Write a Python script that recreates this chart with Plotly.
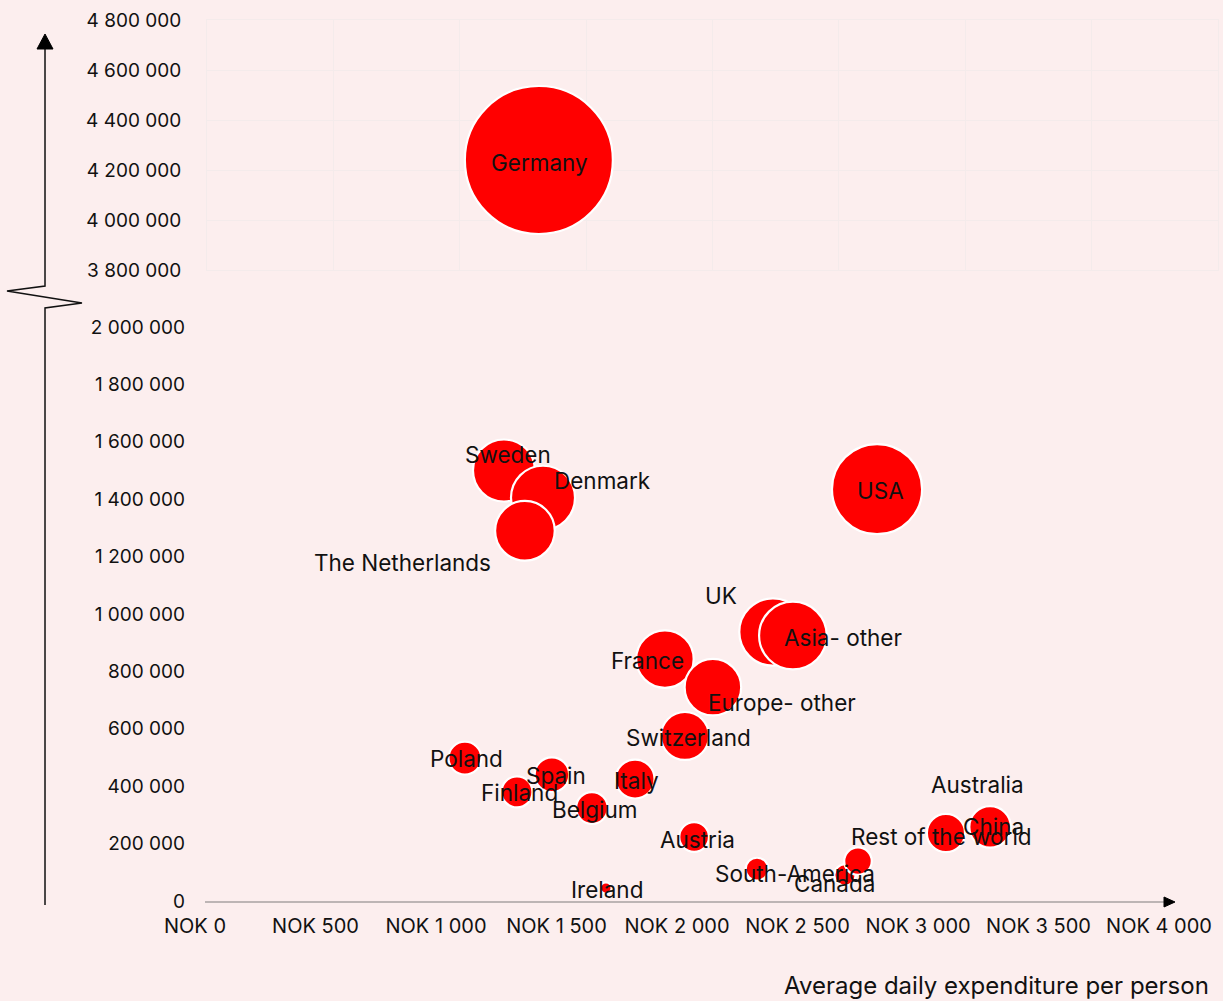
import plotly.graph_objects as go

# ---------------- data ----------------
countries = ["Sweden", "Denmark", "The Netherlands", "USA", "UK", "Asia- other",
             "France", "Europe- other", "Switzerland", "Poland", "Spain", "Finland",
             "Belgium", "Italy", "Austria", "Ireland", "South-America", "Canada",
             "Australia", "Rest of the world", "China"]
daily_expenditure = [1282, 1444, 1369, 2830, 2398, 2481, 1950, 2149, 2033, 1120, 1481, 1336,
                     1647, 1826, 2071, 1705, 2332, 2697, 2751, 3116, 3299]
guest_nights = [1500000, 1405000, 1290000, 1435000, 937000, 925000, 843000, 745000, 575000,
                498000, 440000, 380000, 324000, 425000, 223000, 45000, 111000, 91000,
                139000, 237000, 258000]
total_spend_mnok = [1920, 2050, 1780, 4060, 2260, 2290, 1650, 1600, 1150, 540, 600, 480,
                    500, 760, 440, 65, 260, 227, 380, 730, 860]

germany_name = ["Germany"]
germany_expenditure = [1313]
germany_nights = [4240000]
germany_spend_mnok = [5570]

x_ticks = [0, 500, 1000, 1500, 2000, 2500, 3000, 3500, 4000]
x_tick_labels = ["NOK 0", "NOK 500", "NOK 1 000", "NOK 1 500", "NOK 2 000",
                 "NOK 2 500", "NOK 3 000", "NOK 3 500", "NOK 4 000"]
y_ticks_low = [0, 200000, 400000, 600000, 800000, 1000000, 1200000, 1400000,
               1600000, 1800000, 2000000]
y_ticks_high = [3800000, 4000000, 4200000, 4400000, 4600000, 4800000]
x_title = "Average daily expenditure per person"

# label offsets (px) relative to bubble centre: (dx, dy) with dy positive = down
label_offsets = {
    "Sweden": (4, -16), "Denmark": (59, -17), "The Netherlands": (-122, 32),
    "USA": (3, 1), "UK": (-52, -37), "Asia- other": (50, 2), "France": (-17, 1),
    "Europe- other": (69, 15), "Switzerland": (4, 2), "Poland": (2, 0),
    "Spain": (4, 1), "Finland": (3, 1), "Belgium": (3, 1), "Italy": (1, 1),
    "Austria": (3, 2), "Ireland": (1, 1), "South-America": (38, 4),
    "Canada": (-10, 9), "Australia": (120, -77), "Rest of the world": (-4, 4),
    "China": (3, 0), "Germany": (1, 2),
}

# ---------------- layout geometry ----------------
W, H = 1223, 1001
L, R, T, B = 188, 0, 20, 100
PW, PH = W - L - R, H - T - B
BG = "#FCEEEE"
FONT = "Inter, Liberation Sans, Arial, sans-serif"


def fx(px):
    return (px - L) / PW


def fy(py):
    return (H - B - py) / PH


# bottom x axis: px = 195 + 0.241 * value
x_lo = (L - 195) / 0.241
x_hi = (W - R - 195) / 0.241

fig = go.Figure()

fig.add_trace(go.Scatter(
    x=daily_expenditure, y=guest_nights, mode="markers", text=countries,
    marker=dict(size=total_spend_mnok, sizemode="area", sizeref=1.0,
                color="#FF0000", line=dict(color="white", width=2.2), opacity=1),
    xaxis="x", yaxis="y", cliponaxis=False, showlegend=False, hoverinfo="text",
))

fig.add_trace(go.Scatter(
    x=germany_expenditure, y=germany_nights, mode="markers", text=germany_name,
    marker=dict(size=germany_spend_mnok, sizemode="area", sizeref=0.5086,
                color="#FF0000", line=dict(color="white", width=2.2), opacity=1),
    xaxis="x2", yaxis="y2", cliponaxis=False, showlegend=False, hoverinfo="text",
))

LABEL_FONT = dict(family=FONT, size=22.5, color="#111111")
annotations = []
for name, xv, yv in zip(countries, daily_expenditure, guest_nights):
    dx, dy = label_offsets[name]
    annotations.append(dict(x=xv, y=yv, xref="x", yref="y", text=name, showarrow=False,
                            xshift=dx, yshift=-dy, font=LABEL_FONT))
for name, xv, yv in zip(germany_name, germany_expenditure, germany_nights):
    dx, dy = label_offsets[name]
    annotations.append(dict(x=xv, y=yv, xref="x2", yref="y2", text=name, showarrow=False,
                            xshift=dx, yshift=-dy, font=LABEL_FONT))

annotations.append(dict(x=fx(1211), y=fy(985), xref="paper", yref="paper", text=x_title,
                        showarrow=False, xanchor="right", yanchor="middle",
                        font=dict(family=FONT, size=24, color="#111111")))

# hand-drawn y axis with break and arrow
ax_x = 45
pts = [(ax_x, 905), (ax_x, 308), (82, 303), (7, 291), (ax_x, 286), (ax_x, 48)]
path = "M " + " L ".join(f"{fx(a):.5f},{fy(b):.5f}" for a, b in pts)
shapes = [
    dict(type="path", xref="paper", yref="paper", path=path,
         line=dict(color="#111111", width=1.5)),
    dict(type="path", xref="paper", yref="paper",
         path=f"M {fx(37):.5f},{fy(49):.5f} L {fx(53):.5f},{fy(49):.5f} L {fx(45):.5f},{fy(34):.5f} Z",
         fillcolor="#000000", line=dict(color="#000000", width=1)),
    # x axis line with arrow
    dict(type="line", xref="paper", yref="paper", x0=fx(205), x1=fx(1166),
         y0=fy(902), y1=fy(902), line=dict(color="#A9A2A2", width=1.3)),
    dict(type="path", xref="paper", yref="paper",
         path=f"M {fx(1164):.5f},{fy(897):.5f} L {fx(1175):.5f},{fy(902):.5f} L {fx(1164):.5f},{fy(907):.5f} Z",
         fillcolor="#000000", line=dict(color="#000000", width=1)),
]

tickfont = dict(family=FONT, size=19, color="#111111")
xtickfont = dict(family=FONT, size=20, color="#111111")
grid = "#F4EBEB"

fig.update_layout(
    width=W, height=H,
    margin=dict(l=L, r=R, t=T, b=B, pad=0),
    paper_bgcolor=BG, plot_bgcolor=BG,
    separators=", ",
    showlegend=False,
    annotations=annotations,
    shapes=shapes,
    xaxis=dict(domain=[0, 1], range=[x_lo, x_hi], tickvals=x_ticks, ticktext=x_tick_labels,
               showgrid=False, zeroline=False, showline=False,
               ticks="", ticklabelstandoff=11, tickfont=xtickfont, anchor="y"),
    yaxis=dict(domain=[0, fy(327)], range=[0, 2000000], tickvals=y_ticks_low,
               tickformat=",d", showgrid=False, zeroline=False, showline=False,
               ticks="", tickfont=tickfont, anchor="x", ticklabelstandoff=2),
    xaxis2=dict(domain=[fx(207), fx(1218)], range=[0, 4000], dtick=500,
                showticklabels=False, showgrid=True, gridcolor=grid, gridwidth=1,
                zeroline=False, showline=True, mirror=True, linecolor=grid,
                ticks="", anchor="y2"),
    yaxis2=dict(domain=[fy(270), fy(20)], range=[3800000, 4800000], tickvals=y_ticks_high,
                tickformat=",d", showgrid=True, gridcolor=grid, gridwidth=1,
                zeroline=False, showline=True, mirror=True, linecolor=grid,
                ticks="", tickfont=tickfont, anchor="x2", ticklabelstandoff=21),
)

fig.write_html("out.html")
